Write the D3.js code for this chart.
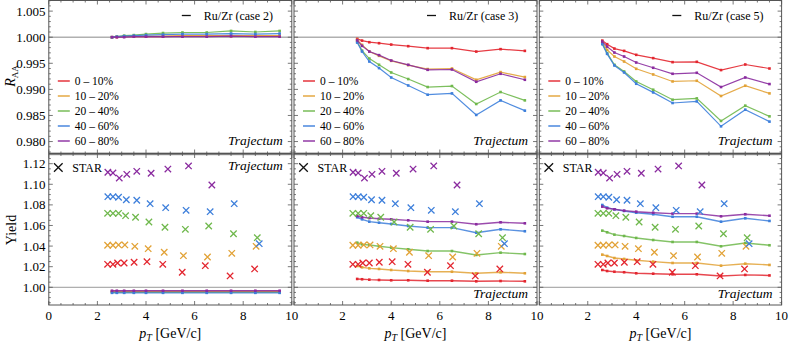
<!DOCTYPE html>
<html>
<head>
<meta charset="utf-8">
<script src="https://cdn.jsdelivr.net/npm/d3@7"></script>
<style>
  body { margin: 0; background: #fff; }
  text, tspan { font-family: "Liberation Serif", "Times New Roman", Times, serif; }
  .frame { stroke: #555; stroke-width: 1; fill: none; }
  .tick { stroke: #555; stroke-width: 0.8; }
</style>
</head>
<body>
<script>
// pT grid of the Trajectum curves
var pT = [2.6, 2.8, 3.1, 3.5, 4.0, 4.7, 5.5, 6.5, 7.5, 8.5, 9.5];
var centralities = ["0 \u2013 10%", "10 \u2013 20%", "20 \u2013 40%", "40 \u2013 60%", "60 \u2013 80%"];
var colors = ["#e3262f", "#e2a236", "#6fb84c", "#3d7fdb", "#8a2b9f"];
var cases = ["case 2", "case 3", "case 5"];

// R_AA ratio Ru/Zr, one row per centrality
var raaCase2 = [
    [1.0000, 1.0000, 1.0001, 1.0001, 1.0001, 1.0001, 1.0002, 1.0002, 1.0002, 1.0002, 1.0002],
    [1.0000, 1.0001, 1.0001, 1.0002, 1.0002, 1.0002, 1.0003, 1.0003, 1.0003, 1.0003, 1.0003],
    [1.0000, 1.0001, 1.0003, 1.0004, 1.0006, 1.0008, 1.0009, 1.0009, 1.0012, 1.0010, 1.0012],
    [1.0000, 1.0001, 1.0002, 1.0003, 1.0004, 1.0005, 1.0006, 1.0006, 1.0007, 1.0006, 1.0007],
    [1.0000, 1.0000, 1.0000, 1.0001, 1.0001, 1.0001, 1.0001, 1.0001, 1.0002, 1.0001, 1.0001]
];
var raaCase3 = [
    [0.99968, 0.99935, 0.99904, 0.99885, 0.99859, 0.99828, 0.99790, 0.99790, 0.99725, 0.99771, 0.99738],
    [0.99948, 0.99853, 0.99725, 0.99643, 0.99547, 0.99465, 0.99389, 0.99400, 0.99184, 0.99331, 0.99236],
    [0.99916, 0.99744, 0.99591, 0.99471, 0.99324, 0.99198, 0.99045, 0.99064, 0.98720, 0.98949, 0.98789],
    [0.99897, 0.99725, 0.99534, 0.99408, 0.99228, 0.99075, 0.98898, 0.98923, 0.98510, 0.98789, 0.98592],
    [0.99940, 0.99834, 0.99725, 0.99656, 0.99553, 0.99471, 0.99375, 0.99381, 0.99146, 0.99299, 0.99184]
];
var raaCase5 = [
    [0.99935, 0.99866, 0.99782, 0.99738, 0.99662, 0.99599, 0.99522, 0.99528, 0.99370, 0.99477, 0.99400],
    [0.99904, 0.99757, 0.99630, 0.99534, 0.99394, 0.99286, 0.99152, 0.99165, 0.98873, 0.99070, 0.98923],
    [0.99885, 0.99694, 0.99471, 0.99343, 0.99152, 0.98993, 0.98802, 0.98827, 0.98395, 0.98688, 0.98483],
    [0.99866, 0.99681, 0.99458, 0.99324, 0.99108, 0.98942, 0.98739, 0.98770, 0.98292, 0.98611, 0.98382],
    [0.99916, 0.99820, 0.99706, 0.99630, 0.99515, 0.99414, 0.99299, 0.99318, 0.99045, 0.99228, 0.99102]
];

// yield ratio Ru/Zr, one row per centrality
var yieldCase2 = [
    [0.9962, 0.9962, 0.9962, 0.9962, 0.9962, 0.9962, 0.9962, 0.9962, 0.9962, 0.9962, 0.9962],
    [0.9957, 0.9957, 0.9957, 0.9957, 0.9957, 0.9957, 0.9957, 0.9957, 0.9957, 0.9957, 0.9957],
    [0.9951, 0.9951, 0.9951, 0.9951, 0.9951, 0.9951, 0.9951, 0.9951, 0.9951, 0.9951, 0.9951],
    [0.9946, 0.9946, 0.9946, 0.9946, 0.9946, 0.9946, 0.9946, 0.9946, 0.9946, 0.9946, 0.9946],
    [0.9966, 0.9966, 0.9966, 0.9966, 0.9966, 0.9966, 0.9966, 0.9966, 0.9966, 0.9966, 0.9966]
];
var yieldCase3 = [
    [1.0081, 1.0078, 1.0074, 1.0071, 1.0068, 1.0068, 1.0064, 1.0064, 1.0058, 1.0061, 1.0058],
    [1.0207, 1.0194, 1.0184, 1.0178, 1.0168, 1.0158, 1.0151, 1.0151, 1.0136, 1.0146, 1.0136],
    [1.0433, 1.0417, 1.0411, 1.0398, 1.0385, 1.0369, 1.0352, 1.0352, 1.0314, 1.0336, 1.0323],
    [1.0680, 1.0660, 1.0637, 1.0627, 1.0615, 1.0595, 1.0579, 1.0579, 1.0530, 1.0563, 1.0544],
    [1.0692, 1.0680, 1.0672, 1.0665, 1.0660, 1.0650, 1.0637, 1.0637, 1.0612, 1.0631, 1.0621]
];
var yieldCase5 = [
    [1.0168, 1.0158, 1.0151, 1.0146, 1.0136, 1.0132, 1.0126, 1.0126, 1.0110, 1.0120, 1.0115],
    [1.0317, 1.0304, 1.0284, 1.0275, 1.0262, 1.0249, 1.0236, 1.0236, 1.0210, 1.0229, 1.0217],
    [1.0550, 1.0534, 1.0511, 1.0498, 1.0479, 1.0459, 1.0440, 1.0440, 1.0398, 1.0430, 1.0408],
    [1.0799, 1.0773, 1.0757, 1.0741, 1.0724, 1.0709, 1.0685, 1.0685, 1.0637, 1.0670, 1.0644],
    [1.0783, 1.0767, 1.0757, 1.0744, 1.0734, 1.0724, 1.0715, 1.0715, 1.0689, 1.0709, 1.0695]
];

// STAR measurements (pT and yield ratio per centrality)
var starPt = [
    [2.42, 2.64, 2.83, 3.10, 3.51, 4.04, 4.69, 5.49, 6.44, 7.46, 8.47],
    [2.42, 2.64, 2.87, 3.13, 3.54, 4.09, 4.75, 5.54, 6.53, 7.53, 8.53],
    [2.42, 2.64, 2.87, 3.16, 3.57, 4.12, 4.78, 5.62, 6.58, 7.60, 8.58],
    [2.43, 2.64, 2.87, 3.19, 3.62, 4.17, 4.81, 5.65, 6.64, 7.63, 8.66],
    [2.43, 2.64, 2.90, 3.21, 3.62, 4.21, 4.90, 5.75, 6.71]
];
var starYield = [
    [1.0223, 1.0223, 1.0236, 1.0236, 1.0243, 1.0249, 1.0223, 1.0146, 1.0210, 1.0110, 1.0178],
    [1.0408, 1.0408, 1.0411, 1.0411, 1.0398, 1.0375, 1.0340, 1.0307, 1.0294, 1.0330, 1.0398],
    [1.0718, 1.0718, 1.0718, 1.0695, 1.0680, 1.0634, 1.0583, 1.0563, 1.0595, 1.0520, 1.0482],
    [1.0880, 1.0880, 1.0874, 1.0850, 1.0845, 1.0812, 1.0773, 1.0747, 1.0734, 1.0812, 1.0423],
    [1.1117, 1.1110, 1.1060, 1.1097, 1.1126, 1.1107, 1.1148, 1.1178, 1.0993]
];

var raaTicks = [0.980, 0.985, 0.990, 0.995, 1.000, 1.005];
var yieldTicks = [1.00, 1.02, 1.04, 1.06, 1.08, 1.10, 1.12];
var xTicks = [0, 2, 4, 6, 8, 10];

var raaData = [raaCase2, raaCase3, raaCase5];
var yieldData = [yieldCase2, yieldCase3, yieldCase5];

var W = 789, H = 344;
var panelX = [48.8, 294, 539.3],
    panelW = [243, 243, 242.3];
var topY = [0, 153.5], botY = [154, 305];

var svg = d3.select("body").append("svg")
    .attr("width", W)
    .attr("height", H);

var yTop = d3.scaleLinear().domain([0.97771, 1.00713]).range([topY[1], topY[0]]);
var yBot = d3.scaleLinear().domain([0.9828, 1.1294]).range([botY[1], botY[0]]);

var line = d3.line();

function tickMarks(g, scale, vals, orient, pos, len) {
    vals.forEach(function(v) {
        var p = scale(v);
        if (orient == "left")   g.append("line").attr("class", "tick").attr("x1", pos).attr("x2", pos + len).attr("y1", p).attr("y2", p);
        if (orient == "right")  g.append("line").attr("class", "tick").attr("x1", pos).attr("x2", pos - len).attr("y1", p).attr("y2", p);
        if (orient == "top")    g.append("line").attr("class", "tick").attr("y1", pos).attr("y2", pos + len).attr("x1", p).attr("x2", p);
        if (orient == "bottom") g.append("line").attr("class", "tick").attr("y1", pos).attr("y2", pos - len).attr("x1", p).attr("x2", p);
    });
}

// separator band between the rows
svg.append("rect")
    .attr("x", panelX[0]).attr("y", 152.3)
    .attr("width", panelX[2] + panelW[2] - panelX[0]).attr("height", 3)
    .attr("fill", "#b3b3b3");

for (var i = 0; i < 3; i++) {
    var x = d3.scaleLinear().domain([0, 10]).range([panelX[i], panelX[i] + panelW[i]]);
    var g = svg.append("g");

    // reference lines at 1
    g.append("line").attr("x1", panelX[i]).attr("x2", panelX[i] + panelW[i])
        .attr("y1", yTop(1)).attr("y2", yTop(1))
        .attr("stroke", "#b0b0b0").attr("stroke-width", 1.6);
    g.append("line").attr("x1", panelX[i]).attr("x2", panelX[i] + panelW[i])
        .attr("y1", yBot(1)).attr("y2", yBot(1))
        .attr("stroke", "#999").attr("stroke-width", 1);

    // frames
    g.append("rect").attr("class", "frame")
        .attr("x", panelX[i]).attr("y", 0.5)
        .attr("width", panelW[i]).attr("height", topY[1] - 0.5);
    g.append("rect").attr("class", "frame")
        .attr("x", panelX[i]).attr("y", botY[0])
        .attr("width", panelW[i]).attr("height", botY[1] - botY[0]);

    // x ticks
    var minorX = d3.range(0, 10.01, 0.5).filter(function(v) { return v % 2 != 0; });
    [[0.5, "top"], [topY[1], "bottom"], [botY[0], "top"], [botY[1], "bottom"]].forEach(function(t) {
        tickMarks(g, x, xTicks, t[1], t[0], 4);
        tickMarks(g, x, minorX, t[1], t[0], 2);
    });
    // y ticks
    var minorTop = d3.range(0.978, 1.0071, 0.001).filter(function(v) { return Math.abs(Math.round(v * 200) - v * 200) > 1e-6; });
    var minorBot = d3.range(0.985, 1.1291, 0.005).filter(function(v) { return Math.abs(Math.round(v * 50) - v * 50) > 1e-6; });
    [[panelX[i], "left"], [panelX[i] + panelW[i], "right"]].forEach(function(t) {
        tickMarks(g, yTop, raaTicks, t[1], t[0], 4);
        tickMarks(g, yTop, minorTop, t[1], t[0], 2);
        tickMarks(g, yBot, yieldTicks, t[1], t[0], 4);
        tickMarks(g, yBot, minorBot, t[1], t[0], 2);
    });

    // x tick labels
    g.selectAll(".xl").data(xTicks.filter(function(v) { return i == 0 || v > 0; }))
        .enter().append("text")
        .attr("x", function(d) { return x(d); })
        .attr("y", 320)
        .attr("text-anchor", "middle")
        .attr("font-size", 13)
        .text(function(d) { return d; });

    var xt = g.append("text")
        .attr("x", panelX[i] + panelW[i] / 2)
        .attr("y", 337.5)
        .attr("text-anchor", "middle")
        .attr("font-size", 14);
    xt.append("tspan").attr("font-style", "italic").text("p");
    xt.append("tspan").attr("font-style", "italic").attr("font-size", 10).attr("dy", 3).text("T");
    xt.append("tspan").attr("dy", -3).text(" [GeV/c]");

    // Trajectum curves, top row
    raaData[i].forEach(function(row, k) {
        var pts = row.map(function(v, j) { return [x(pT[j]), yTop(v)]; });
        g.append("path").attr("d", line(pts))
            .attr("fill", "none").attr("stroke", colors[k]).attr("stroke-width", 1.2)
            .attr("stroke-opacity", 0.9);
        g.selectAll(null).data(pts).enter().append("rect")
            .attr("x", function(d) { return d[0] - 1.3; })
            .attr("y", function(d) { return d[1] - 1.3; })
            .attr("width", 2.6).attr("height", 2.6)
            .attr("fill", colors[k]);
    });

    // Trajectum curves, bottom row
    yieldData[i].forEach(function(row, k) {
        var pts = row.map(function(v, j) { return [x(pT[j]), yBot(v)]; });
        g.append("path").attr("d", line(pts))
            .attr("fill", "none").attr("stroke", colors[k]).attr("stroke-width", 1.4)
            .attr("stroke-opacity", 0.85);
        g.selectAll(null).data(pts).enter().append("rect")
            .attr("x", function(d) { return d[0] - 1.3; })
            .attr("y", function(d) { return d[1] - 1.3; })
            .attr("width", 2.6).attr("height", 2.6)
            .attr("fill", colors[k]);
    });

    // STAR crosses
    starPt.forEach(function(ps, k) {
        ps.forEach(function(p, j) {
            var cx = x(p), cy = yBot(starYield[k][j]), s = 3.2;
            g.append("path")
                .attr("d", "M" + (cx - s) + "," + (cy - s) + "L" + (cx + s) + "," + (cy + s) +
                    "M" + (cx - s) + "," + (cy + s) + "L" + (cx + s) + "," + (cy - s))
                .attr("stroke", colors[k]).attr("stroke-width", 1.3);
        });
    });

    // legends
    var lx = panelX[i];
    g.append("line").attr("x1", lx + 133).attr("x2", lx + 142).attr("y1", 15.5).attr("y2", 15.5)
        .attr("stroke", "#111").attr("stroke-width", 1.3);
    g.append("text").attr("x", lx + 155).attr("y", 20).attr("font-size", 12)
        .text("Ru/Zr (" + cases[i] + ")");

    centralities.forEach(function(c, k) {
        var ly = 81 + k * 15;
        g.append("line").attr("x1", lx + 9).attr("x2", lx + 21).attr("y1", ly).attr("y2", ly)
            .attr("stroke", colors[k]).attr("stroke-width", 1.4);
        g.append("text").attr("x", lx + 26).attr("y", ly + 4).attr("font-size", 11.5).text(c);
    });

    g.append("text").attr("x", lx + panelW[i] - 9).attr("y", 145)
        .attr("text-anchor", "end").attr("font-size", 13.5).attr("font-style", "italic")
        .text("Trajectum");
    g.append("text").attr("x", lx + panelW[i] - 9).attr("y", i == 0 ? 170 : 298)
        .attr("text-anchor", "end").attr("font-size", 13.5).attr("font-style", "italic")
        .text("Trajectum");

    var sx = lx + 9.5, sy = 167.5, ss = 4.3;
    g.append("path")
        .attr("d", "M" + (sx - ss) + "," + (sy - ss) + "L" + (sx + ss) + "," + (sy + ss) +
            "M" + (sx - ss) + "," + (sy + ss) + "L" + (sx + ss) + "," + (sy - ss))
        .attr("stroke", "#111").attr("stroke-width", 1.3);
    g.append("text").attr("x", lx + 23.5).attr("y", 171.5).attr("font-size", 12).text("STAR");
}

// y tick labels on the left
svg.selectAll(".yt").data(raaTicks).enter().append("text")
    .attr("x", 45.5).attr("y", function(d) { return yTop(d) + 4.5; })
    .attr("text-anchor", "end").attr("font-size", 13)
    .text(function(d) { return d.toFixed(3); });
svg.selectAll(".yb").data(yieldTicks).enter().append("text")
    .attr("x", 45.5).attr("y", function(d) { return yBot(d) + 4.5; })
    .attr("text-anchor", "end").attr("font-size", 13)
    .text(function(d) { return d.toFixed(2); });

// y axis titles
var rt = svg.append("text")
    .attr("transform", "translate(15,76) rotate(-90)")
    .attr("text-anchor", "middle").attr("font-size", 14);
rt.append("tspan").attr("font-style", "italic").text("R");
rt.append("tspan").attr("font-size", 9).attr("dy", 3).text("AA");

svg.append("text")
    .attr("transform", "translate(16,230) rotate(-90)")
    .attr("text-anchor", "middle").attr("font-size", 14)
    .text("Yield");
</script>
</body>
</html>
